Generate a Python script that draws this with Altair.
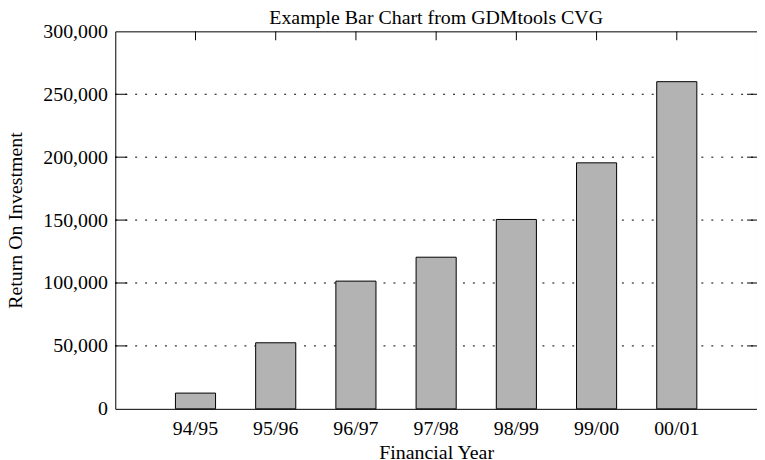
import altair as alt
import pandas as pd

# ---- data ----
years = ["94/95", "95/96", "96/97", "97/98", "98/99", "99/00", "00/01"]
roi = [12500, 52500, 101500, 120500, 150500, 195500, 260000]
y_ticks = [0, 50000, 100000, 150000, 200000, 250000, 300000]
grid_lines = [50000, 100000, 150000, 200000, 250000]

bars_df = pd.DataFrame({"year": years, "roi": roi})
grid_df = pd.DataFrame({"v": grid_lines})
cat_df = pd.DataFrame({"year": years})

W, H = 646, 380
FONT = "Liberation Serif"
FS = 20

x_scale = alt.Scale(domain=years, paddingInner=0.5, paddingOuter=0.75)
y_scale = alt.Scale(domain=[0, 300000], nice=False, zero=True)

x_axis = alt.Axis(title="Financial Year", labelAngle=0, ticks=False, domain=False,
                  grid=False, labelPadding=10, titlePadding=4)
y_axis = alt.Axis(title="Return On Investment", values=y_ticks, format=",.0f", ticks=False,
                  domain=False, grid=False, labelPadding=8, titlePadding=17)

grid = alt.Chart(grid_df).mark_rule(color="black", strokeWidth=1, strokeDash=[2, 8]).encode(
    y=alt.Y("v:Q", scale=y_scale, axis=y_axis),
    x=alt.value(0), x2=alt.value(W),
)
left_ticks = alt.Chart(grid_df).mark_rule(color="black", strokeWidth=1).encode(
    y=alt.Y("v:Q", scale=y_scale, axis=y_axis),
    x=alt.value(0), x2=alt.value(12),
)
right_ticks = alt.Chart(grid_df).mark_rule(color="black", strokeWidth=1).encode(
    y=alt.Y("v:Q", scale=y_scale, axis=y_axis),
    x=alt.value(W - 10), x2=alt.value(W),
)
top_ticks = alt.Chart(cat_df).mark_rule(color="black", strokeWidth=1).encode(
    x=alt.X("year:N", scale=x_scale, axis=x_axis),
    y=alt.value(0), y2=alt.value(9),
)
bars = alt.Chart(bars_df).mark_bar(color="#b3b3b3", stroke="black", strokeWidth=1).encode(
    x=alt.X("year:N", scale=x_scale, axis=x_axis),
    y=alt.Y("roi:Q", scale=y_scale, axis=y_axis),
)

chart = alt.layer(grid, left_ticks, right_ticks, top_ticks, bars).properties(
    width=W, height=H,
    title=alt.TitleParams("Example Bar Chart from GDMtools CVG", font=FONT, fontSize=FS,
                          fontWeight="normal", color="black", anchor="middle", offset=-7),
    autosize=alt.AutoSizeParams(type="none"),
    padding={"left": 108, "top": 22, "right": 0, "bottom": 50},
).configure_view(stroke="black", strokeWidth=1).configure_axis(
    labelFont=FONT, titleFont=FONT, labelFontSize=FS, titleFontSize=FS,
    labelColor="black", titleColor="black", titleFontWeight="normal",
)

chart.save("out.html", embed_options={"renderer": "svg", "actions": False})
